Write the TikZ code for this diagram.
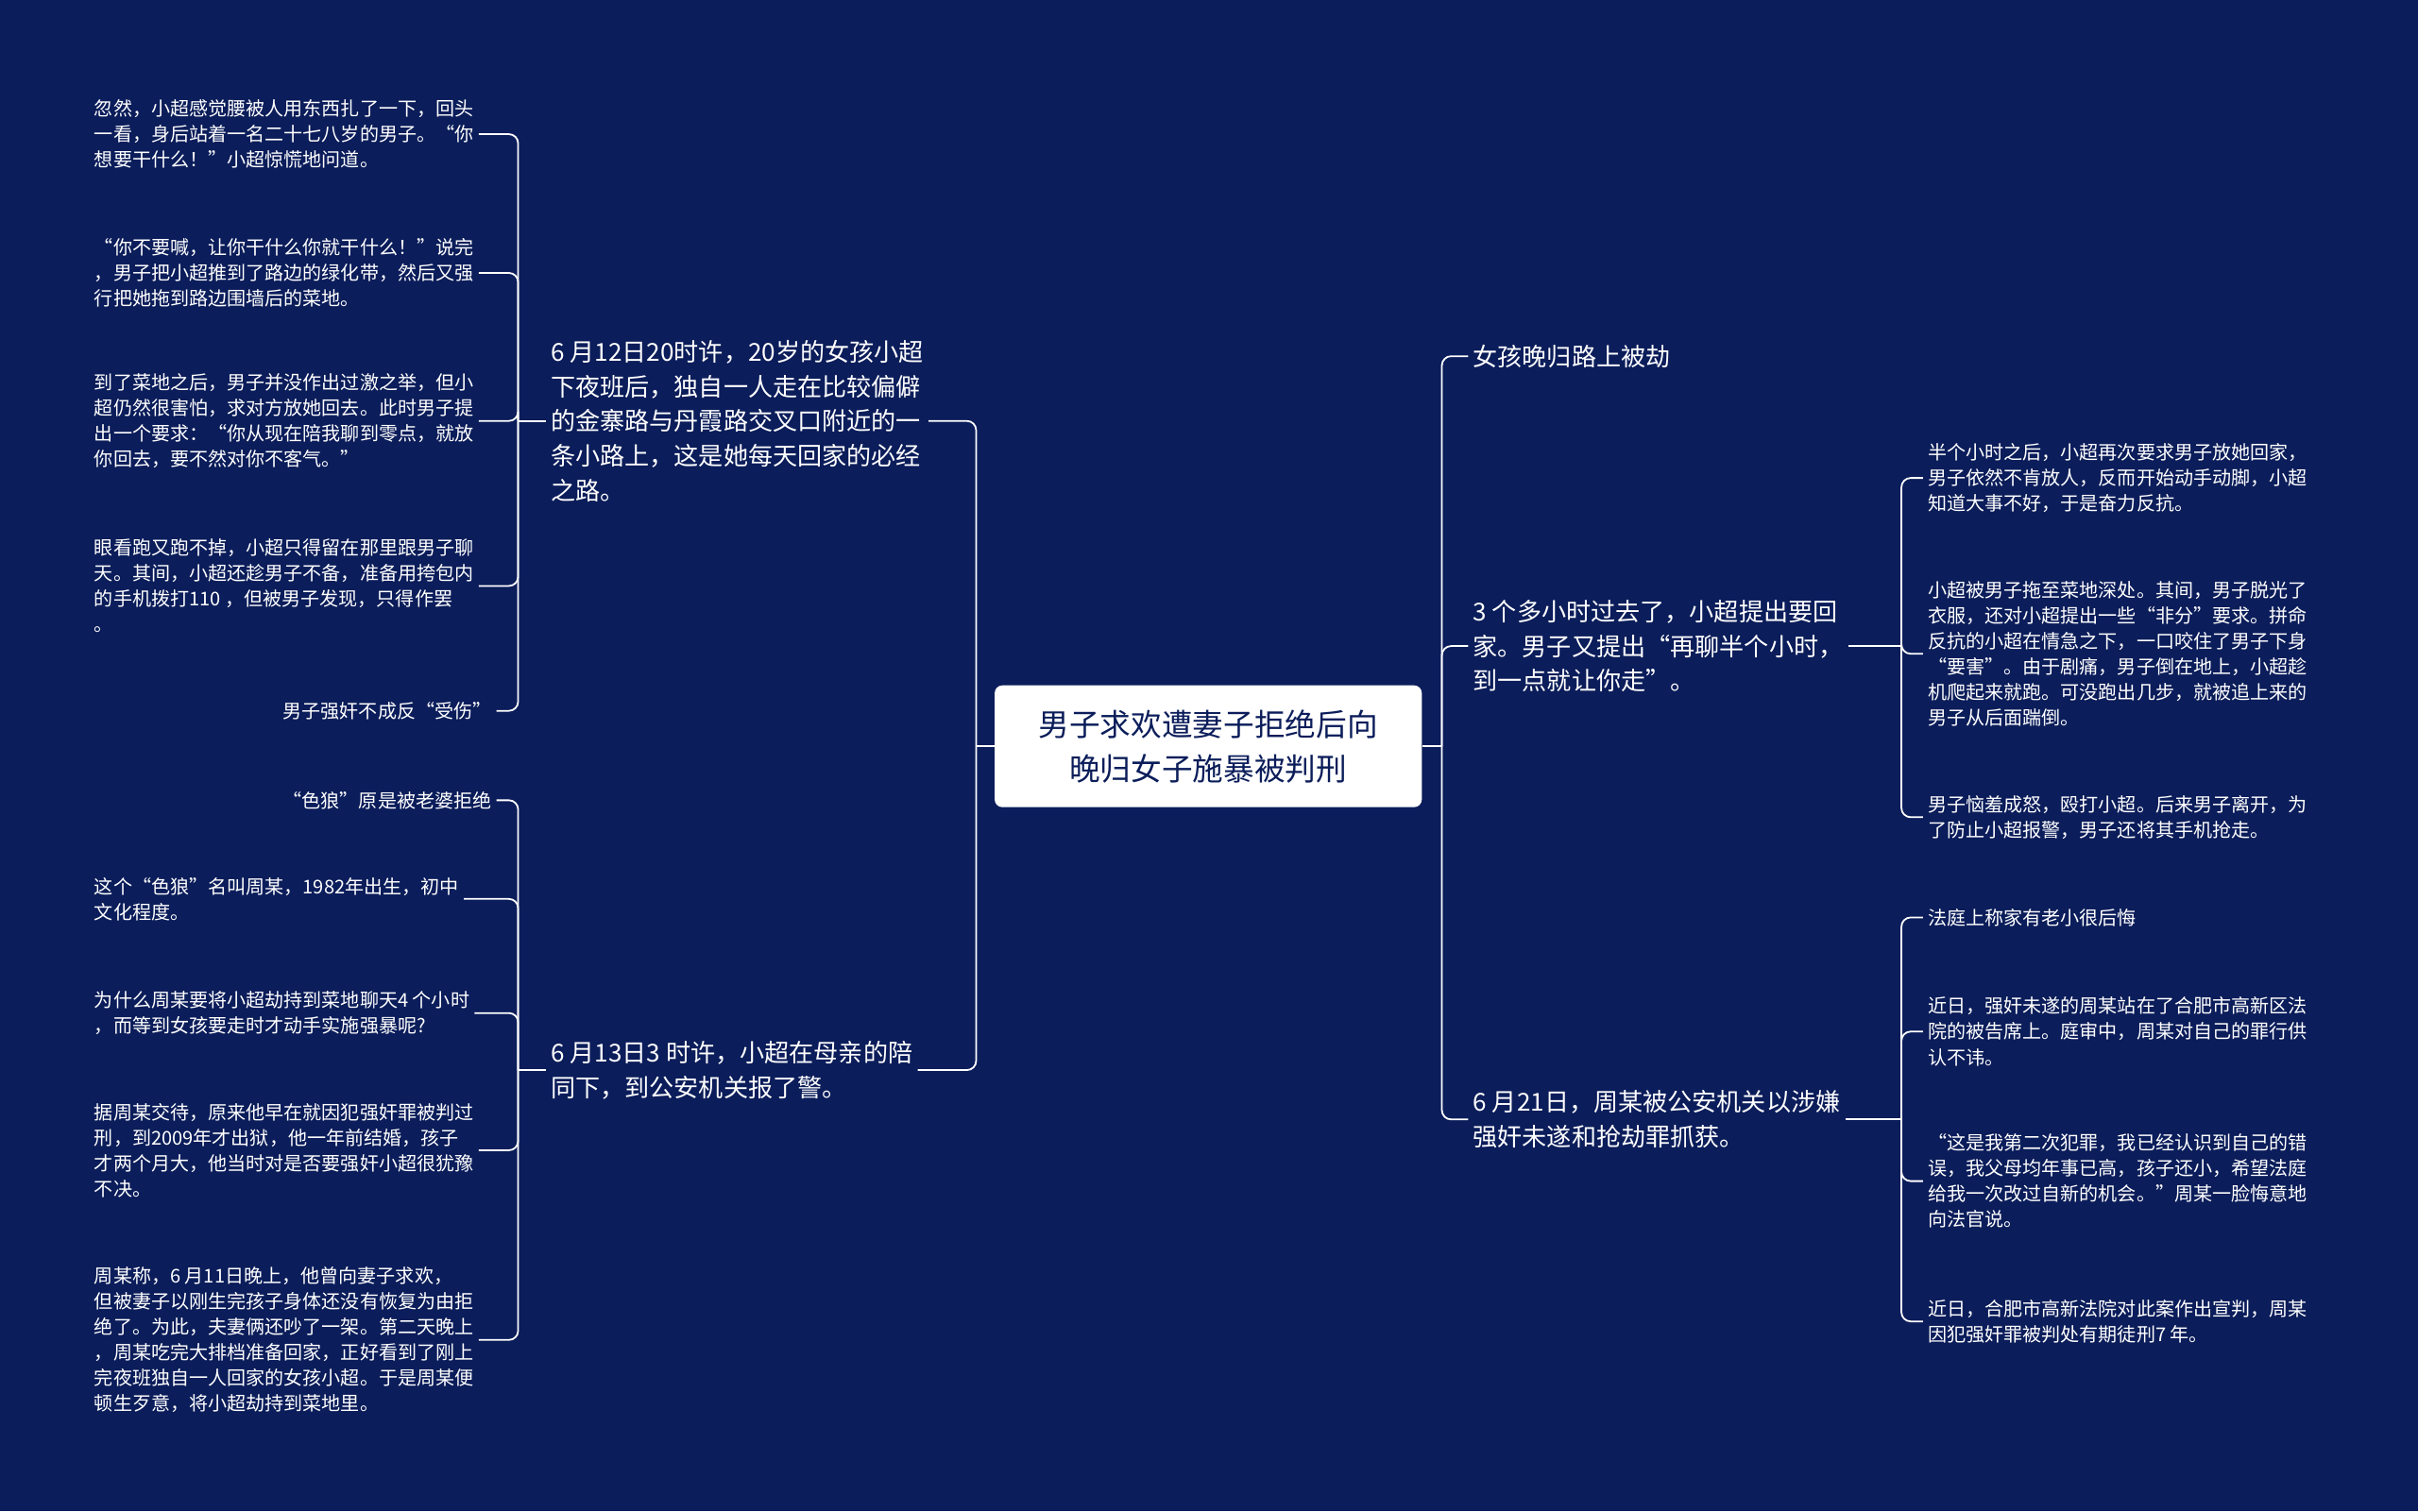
\documentclass[tikz,border=0pt]{standalone}
\usepackage{fontspec}
\setmainfont{Noto Sans CJK SC}
\definecolor{bg}{HTML}{0B1D5A}
\begin{document}
\begin{tikzpicture}[x=1pt,y=-1pt,
 conn/.style={draw=white,line width=1.1pt,rounded corners=6pt},
 leaf/.style={text=white,font=\fontsize{12.3}{16.6}\selectfont,align=left,inner sep=3pt},
 mid/.style={text=white,font=\fontsize{16}{22.5}\selectfont,align=left,inner sep=3pt},
 rootn/.style={fill=white,rounded corners=5pt,text=bg,font=\fontsize{20}{29}\selectfont,align=center,minimum width=277pt,minimum height=79pt}]
\fill[bg] (0,0) rectangle (1568,980);
\useasboundingbox (0,0) rectangle (1568,980);
\node[rootn] (root) at (783.5,484) {男子求欢遭妻子拒绝后向\\晚归女子施暴被判刑};
% left mid
\node[mid,anchor=west] (L1) at (354,273) {6 月12日20时许，20岁的女孩小超\\下夜班后，独自一人走在比较偏僻\\的金寨路与丹霞路交叉口附近的一\\条小路上，这是她每天回家的必经\\之路。};
\node[mid,anchor=west] (L2) at (354,694) {6 月13日3 时许，小超在母亲的陪\\同下，到公安机关报了警。};
% right mid
\node[mid,anchor=west] (R1) at (952,231) {女孩晚归路上被劫};
\node[mid,anchor=west] (R2) at (952,419) {3 个多小时过去了，小超提出要回\\家。男子又提出“再聊半个小时，\\到一点就让你走”。};
\node[mid,anchor=west] (R3) at (952,726) {6 月21日，周某被公安机关以涉嫌\\强奸未遂和抢劫罪抓获。};
% left leaves
\node[leaf,anchor=west] (A1) at (58,87) {忽然，小超感觉腰被人用东西扎了一下，回头\\一看，身后站着一名二十七八岁的男子。“你\\想要干什么！”小超惊慌地问道。};
\node[leaf,anchor=west] (A2) at (58,177) {“你不要喊，让你干什么你就干什么！”说完\\，男子把小超推到了路边的绿化带，然后又强\\行把她拖到路边围墙后的菜地。};
\node[leaf,anchor=west] (A3) at (58,273) {到了菜地之后，男子并没作出过激之举，但小\\超仍然很害怕，求对方放她回去。此时男子提\\出一个要求：“你从现在陪我聊到零点，就放\\你回去，要不然对你不客气。”};
\node[leaf,anchor=west] (A4) at (58,380) {眼看跑又跑不掉，小超只得留在那里跟男子聊\\天。其间，小超还趁男子不备，准备用挎包内\\的手机拨打110 ，但被男子发现，只得作罢\\。};
\node[leaf,anchor=east] (A5) at (322,461) {男子强奸不成反“受伤”};
\node[leaf,anchor=east] (B1) at (322,519) {“色狼”原是被老婆拒绝};
\node[leaf,anchor=west] (B2) at (58,583) {这个“色狼”名叫周某，1982年出生，初中\\文化程度。};
\node[leaf,anchor=west] (B3) at (58,657) {为什么周某要将小超劫持到菜地聊天4 个小时\\，而等到女孩要走时才动手实施强暴呢?};
\node[leaf,anchor=west] (B4) at (58,746) {据周某交待，原来他早在就因犯强奸罪被判过\\刑，到2009年才出狱，他一年前结婚，孩子\\才两个月大，他当时对是否要强奸小超很犹豫\\不决。};
\node[leaf,anchor=west] (B5) at (58,869) {周某称，6 月11日晚上，他曾向妻子求欢，\\但被妻子以刚生完孩子身体还没有恢复为由拒\\绝了。为此，夫妻俩还吵了一架。第二天晚上\\，周某吃完大排档准备回家，正好看到了刚上\\完夜班独自一人回家的女孩小超。于是周某便\\顿生歹意，将小超劫持到菜地里。};
% right leaves
\node[leaf,anchor=west] (C1) at (1247,310) {半个小时之后，小超再次要求男子放她回家，\\男子依然不肯放人，反而开始动手动脚，小超\\知道大事不好，于是奋力反抗。};
\node[leaf,anchor=west] (C2) at (1247,424) {小超被男子拖至菜地深处。其间，男子脱光了\\衣服，还对小超提出一些“非分”要求。拼命\\反抗的小超在情急之下，一口咬住了男子下身\\“要害”。由于剧痛，男子倒在地上，小超趁\\机爬起来就跑。可没跑出几步，就被追上来的\\男子从后面踹倒。};
\node[leaf,anchor=west] (C3) at (1247,530) {男子恼羞成怒，殴打小超。后来男子离开，为\\了防止小超报警，男子还将其手机抢走。};
\node[leaf,anchor=west] (D1) at (1247,595) {法庭上称家有老小很后悔};
\node[leaf,anchor=west] (D2) at (1247,669) {近日，强奸未遂的周某站在了合肥市高新区法\\院的被告席上。庭审中，周某对自己的罪行供\\认不讳。};
\node[leaf,anchor=west] (D3) at (1247,766) {“这是我第二次犯罪，我已经认识到自己的错\\误，我父母均年事已高，孩子还小，希望法庭\\给我一次改过自新的机会。”周某一脸悔意地\\向法官说。};
\node[leaf,anchor=west] (D4) at (1247,857) {近日，合肥市高新法院对此案作出宣判，周某\\因犯强奸罪被判处有期徒刑7 年。};
% connectors
\draw[conn] (root.west) -- (633,484) coordinate (lj);
\draw[conn] (root.east) -- (935,484) coordinate (rj);
\foreach \c in {L1,L2} \draw[conn] (lj) |- (\c.east);
\foreach \c in {R1,R2,R3} \draw[conn] (rj) |- (\c.west);
\draw[conn] (L1.west) -- (336,273) coordinate (l1j);
\foreach \c in {A1,A2,A3,A4,A5} \draw[conn] (l1j) |- (\c.east);
\draw[conn] (L2.west) -- (336,694) coordinate (l2j);
\foreach \c in {B1,B2,B3,B4,B5} \draw[conn] (l2j) |- (\c.east);
\draw[conn] (R2.east) -- (1233,419) coordinate (r2j);
\foreach \c in {C1,C2,C3} \draw[conn] (r2j) |- (\c.west);
\draw[conn] (R3.east) -- (1233,726) coordinate (r3j);
\foreach \c in {D1,D2,D3,D4} \draw[conn] (r3j) |- (\c.west);
\end{tikzpicture}
\end{document}
